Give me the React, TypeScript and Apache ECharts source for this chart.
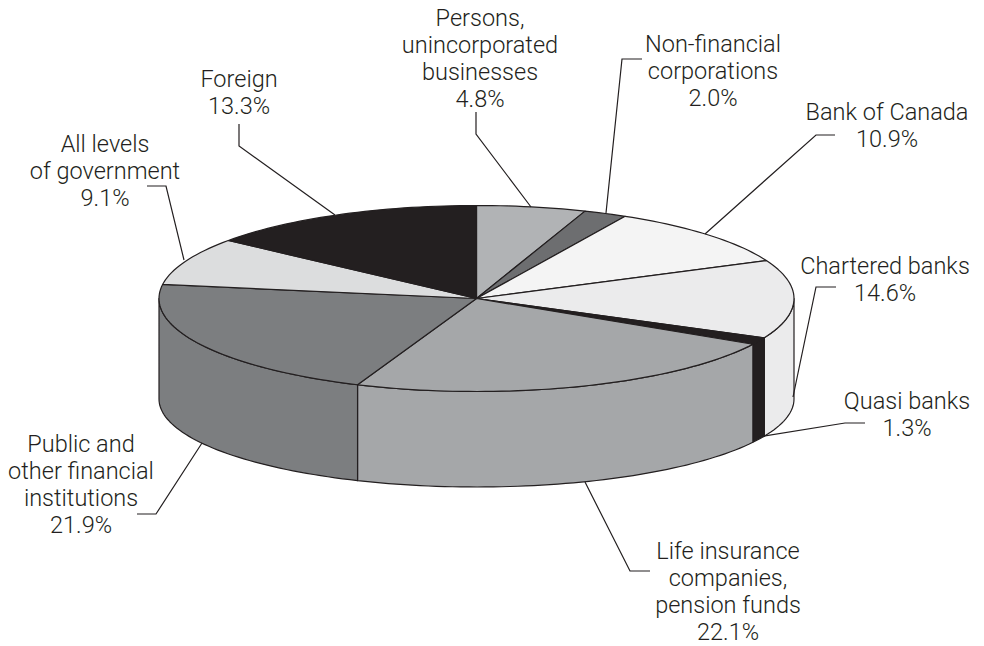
import React, { useEffect, useRef } from "react";
import * as echarts from "echarts";

const categories = [
  "Persons, unincorporated businesses",
  "Non-financial corporations",
  "Bank of Canada",
  "Chartered banks",
  "Quasi banks",
  "Life insurance companies, pension funds",
  "Public and other financial institutions",
  "All levels of government",
  "Foreign",
];
const shares = [4.8, 2.0, 10.9, 14.6, 1.3, 22.1, 21.9, 9.1, 13.3];
const labelLines = [
  ["Persons,", "unincorporated", "businesses", "4.8%"],
  ["Non-financial", "corporations", "2.0%"],
  ["Bank of Canada", "10.9%"],
  ["Chartered banks", "14.6%"],
  ["Quasi banks", "1.3%"],
  ["Life insurance", "companies,", "pension funds", "22.1%"],
  ["Public and", "other financial", "institutions", "21.9%"],
  ["All levels", "of government", "9.1%"],
  ["Foreign", "13.3%"],
];
const topColors = ["#b1b3b5", "#6d6e70", "#f4f4f4", "#ebebec", "#231f20", "#a5a7a9", "#7c7e80", "#dcddde", "#231f20"];

// label centre x and first-line centre y
const labelAnchors = [
  [480, 18], [713, 44], [887, 112], [885, 266], [907, 401], [728, 551], [81, 444], [105, 144], [239, 79],
];
const leaders: number[][][] = [
  [[476, 112], [476, 134], [531, 207]],
  [[642, 59], [622, 59], [606, 213]],
  [[835, 135], [816, 135], [705, 234]],
  [[836, 287], [816, 287], [793, 397]],
  [[865, 423], [845, 423], [758, 437]],
  [[650, 571], [630, 571], [585, 482]],
  [[137, 514], [156, 514], [202, 443]],
  [[147, 186], [166, 186], [184, 260]],
  [[239, 124], [239, 146], [335, 215]],
];

const CX = 476.5, CY = 298.5, RX = 317.5, RY = 93;
const BOTTOM_CY = 399, BOTTOM_RY = 88;
const INK = "#231f20";
const FONT = "Roboto";
const LINE_H = 27;

// camera foreshortening: the disc's apparent angles differ slightly from true angles
const warp = (deg: number) => {
  const r = (deg * Math.PI) / 180;
  const rear = ((1 + Math.cos(r)) / 2) ** 2;
  const front = ((1 - Math.cos(r)) / 2) ** 2;
  return deg + Math.sin(2 * r) * (5 * rear + 2.4 * front);
};
const topPt = (deg: number) => {
  const r = (deg * Math.PI) / 180;
  return [CX + RX * Math.sin(r), CY - RY * Math.cos(r)];
};
const botPt = (deg: number) => {
  const r = (deg * Math.PI) / 180;
  return [CX + RX * Math.sin(r), BOTTOM_CY - BOTTOM_RY * Math.cos(r)];
};
const arc = (a: number, b: number, f: (d: number) => number[]) => {
  const n = Math.max(2, Math.ceil(Math.abs(b - a) / 1.5));
  const out: number[][] = [];
  for (let i = 0; i <= n; i++) out.push(f(a + ((b - a) * i) / n));
  return out;
};

const total = shares.reduce((s, v) => s + v, 0);
const spans = shares.map((_, i) => {
  const before = shares.slice(0, i).reduce((s, v) => s + v, 0);
  return [warp((before / total) * 360), warp(((before + shares[i]) / total) * 360)];
});

export default function App() {
  const ref = useRef<HTMLDivElement>(null);
  useEffect(() => {
    const chart = echarts.init(ref.current!, undefined, { renderer: "svg" });
    const renderSide = (_: any, api: any) => {
      const i = api.value(0);
      const [a, b] = spans[i];
      const s = Math.max(a, 90), e = Math.min(b, 270);
      if (e <= s) return { type: "group", children: [] };
      const pts = [...arc(s, e, topPt), ...arc(e, s, botPt)];
      return {
        type: "polygon",
        shape: { points: pts },
        style: { fill: topColors[i], stroke: INK, lineWidth: 1.2, lineJoin: "round" },
      };
    };
    const renderTop = (_: any, api: any) => {
      const i = api.value(0);
      const [a, b] = spans[i];
      return {
        type: "polygon",
        shape: { points: [[CX, CY], ...arc(a, b, topPt)] },
        style: { fill: topColors[i], stroke: INK, lineWidth: 1.2, lineJoin: "round" },
      };
    };
    const graphics: any[] = [];
    leaders.forEach((pts) =>
      graphics.push({
        type: "polyline",
        shape: { points: pts },
        style: { fill: "none", stroke: INK, lineWidth: 1.2 },
        z: 10,
      })
    );
    labelLines.forEach((lines, i) =>
      lines.forEach((t, j) =>
        graphics.push({
          type: "text",
          x: labelAnchors[i][0],
          y: labelAnchors[i][1] + j * LINE_H,
          z: 11,
          style: {
            text: t,
            fill: "#231f20",
            font: `300 23.5px "${FONT}"`,
            textAlign: "center",
            textVerticalAlign: "middle",
          },
        })
      )
    );
    const rows = shares.map((v, i) => ({ name: categories[i], value: [i, v] }));
    chart.setOption({
      animation: false,
      backgroundColor: "#ffffff",
      graphic: graphics,
      series: [
        { type: "custom", coordinateSystem: "none", renderItem: renderSide, data: rows, z: 1, silent: true },
        { type: "custom", coordinateSystem: "none", renderItem: renderTop, data: rows, z: 2, silent: true },
      ],
    });
    return () => chart.dispose();
  }, []);
  return (
    <div
      ref={ref}
      style={{ position: "absolute", left: 0, top: 0, width: 984, height: 646 }}
    />
  );
}
